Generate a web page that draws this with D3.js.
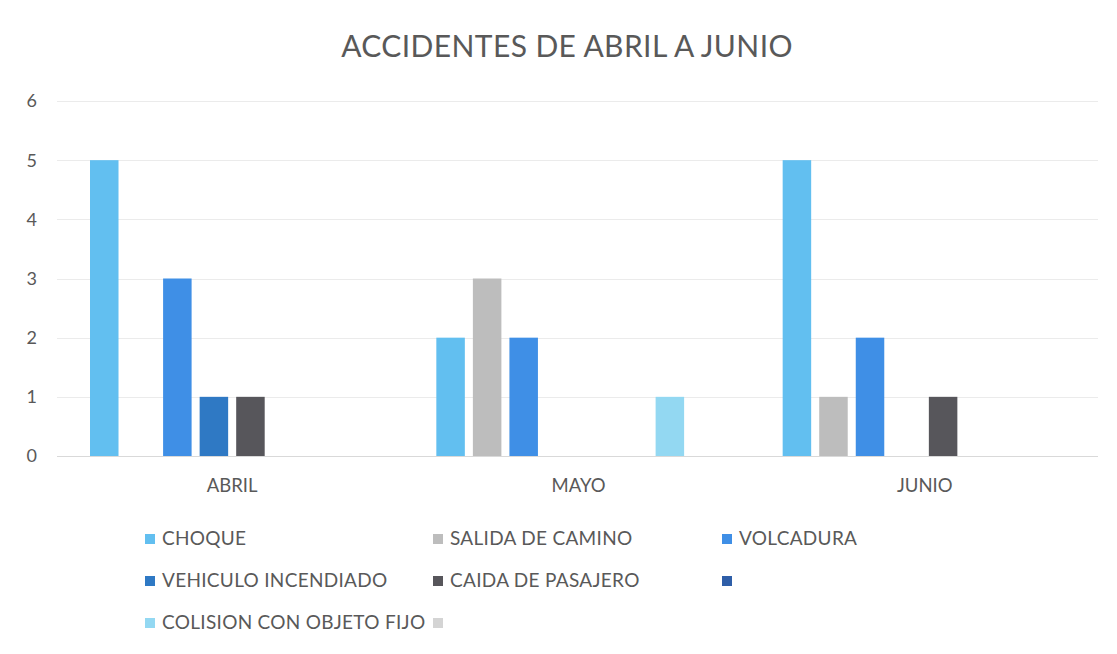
<!DOCTYPE html>
<html>
<head>
<meta charset="utf-8">
<script src="https://cdn.jsdelivr.net/npm/d3@7"></script>
<style>
  body { margin: 0; background: #fff; }
  svg { display: block; font-family: Lato, "Open Sans", sans-serif; }
</style>
</head>
<body>
<div id="chart"></div>
<script>
const months = ["ABRIL", "MAYO", "JUNIO"];
const seriesNames = ["CHOQUE", "SALIDA DE CAMINO", "VOLCADURA", "VEHICULO INCENDIADO",
  "CAIDA DE PASAJERO", "", "COLISION CON OBJETO FIJO", ""];
const seriesColors = ["#62bff0", "#bdbdbd", "#3f8fe6", "#2f79c4", "#57565b", "#2e5ea8", "#93d8f2", "#d4d4d4"];
// values per series, in month order
const values = [
  [5, 2, 5],
  [0, 3, 1],
  [3, 2, 2],
  [1, 0, 0],
  [1, 0, 1],
  [0, 0, 0],
  [0, 1, 0],
  [0, 0, 0]
];
const yTicks = [0, 1, 2, 3, 4, 5, 6];

const width = 1117, height = 654;
const margin = { top: 101, right: 19, bottom: 198, left: 59 };

const svg = d3.select("#chart").append("svg")
  .attr("width", width)
  .attr("height", height);

const x0 = d3.scaleBand(months, [margin.left, width - margin.right]).padding(0);
const x1 = d3.scaleBand(d3.range(seriesNames.length), [31, x0.bandwidth() - 31])
  .paddingInner(0.22).paddingOuter(0);
const y = d3.scaleLinear([0, 6], [height - margin.bottom, margin.top]);

// title
svg.append("text")
  .attr("x", 567).attr("y", 57)
  .attr("text-anchor", "middle")
  .attr("fill", "#595959")
  .attr("font-size", 30)
  .attr("letter-spacing", 0.4)
  .text("ACCIDENTES DE ABRIL A JUNIO");

// gridlines
svg.append("g")
  .selectAll("line")
  .data(yTicks)
  .join("line")
  .attr("x1", margin.left - 2)
  .attr("x2", width - margin.right)
  .attr("y1", d => Math.round(y(d)) + 0.5)
  .attr("y2", d => Math.round(y(d)) + 0.5)
  .attr("stroke", d => d === 0 ? "#d9d9d9" : "#ebebeb")
  .attr("stroke-width", 1);

// y axis labels
svg.append("g")
  .selectAll("text")
  .data(yTicks)
  .join("text")
  .attr("x", 37)
  .attr("y", d => y(d))
  .attr("dy", "0.36em")
  .attr("text-anchor", "end")
  .attr("fill", "#595959")
  .attr("font-size", 18)
  .text(d => d);

// bars
const bars = [];
values.forEach((vals, s) => vals.forEach((v, m) => bars.push({ s, m, v })));

svg.append("g")
  .selectAll("rect")
  .data(bars.filter(d => d.v > 0))
  .join("rect")
  .attr("x", d => x0(months[d.m]) + x1(d.s))
  .attr("width", x1.bandwidth())
  .attr("y", d => y(d.v))
  .attr("height", d => y(0) - y(d.v))
  .attr("fill", d => seriesColors[d.s]);

// x axis labels
svg.append("g")
  .selectAll("text")
  .data(months)
  .join("text")
  .attr("x", d => x0(d) + x0.bandwidth() / 2)
  .attr("y", 492)
  .attr("text-anchor", "middle")
  .attr("fill", "#595959")
  .attr("font-size", 18.5)
  .text(d => d);

// legend
const legendCols = [145, 433, 722];
const legendRows = [538, 580, 622];
const legend = svg.append("g")
  .selectAll("g")
  .data(seriesNames.map((name, i) => ({ name, i })))
  .join("g")
  .attr("transform", d => `translate(${legendCols[d.i % 3]},${legendRows[Math.floor(d.i / 3)]})`);

legend.append("rect")
  .attr("x", 0).attr("y", -4)
  .attr("width", 10).attr("height", 10)
  .attr("fill", d => seriesColors[d.i]);

legend.append("text")
  .attr("x", 17)
  .attr("y", 6.5)
  .attr("fill", "#595959")
  .attr("font-size", 19)
  .attr("letter-spacing", 0.3)
  .text(d => d.name);
</script>
</body>
</html>
